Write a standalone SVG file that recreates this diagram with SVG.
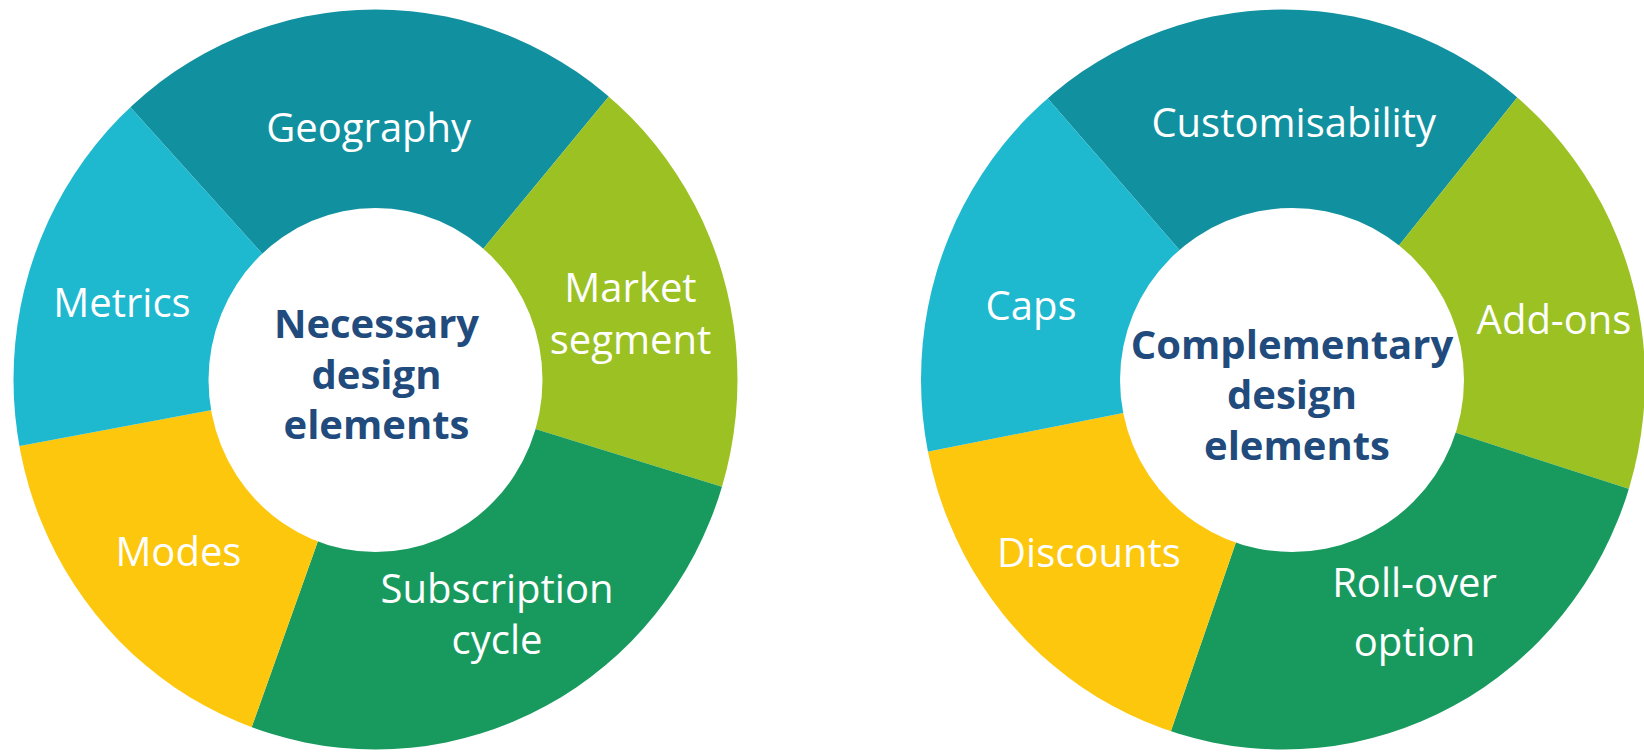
<svg xmlns="http://www.w3.org/2000/svg" width="1644" height="752" viewBox="0 0 1644 752">
<defs>
<style>
.lbl{font-family:"Open Sans","Noto Sans","Liberation Sans",sans-serif;font-size:40px;fill:#ffffff;text-anchor:middle}
.ctr{font-family:"Open Sans","Noto Sans","Liberation Sans",sans-serif;font-size:40px;font-weight:bold;fill:#224B7D;text-anchor:middle}
.teal{fill:#11909F}
.cyan{fill:#1EB8CF}
.lime{fill:#9BC222}
.green{fill:#189A5F}
.yellow{fill:#FCC70C}
</style>
<clipPath id="clipL"><ellipse cx="375.5" cy="379.5" rx="362" ry="370"/></clipPath>
<clipPath id="clipR"><ellipse cx="1283" cy="379.5" rx="362" ry="370"/></clipPath>
</defs>
<rect width="1644" height="752" fill="#ffffff"/>

<g id="donut-necessary">
<g clip-path="url(#clipL)">
<path id="seg-geography" class="teal" d="M375.5,379.5 L-159.8,-215 A800,800 0 0 1 884.4,-237.8 Z"/>
<path id="seg-market" class="lime" d="M375.5,379.5 L884.4,-237.8 A800,800 0 0 1 1139.7,616.1 Z"/>
<path id="seg-subscription" class="green" d="M375.5,379.5 L1139.7,616.1 A800,800 0 0 1 107.1,1133.1 Z"/>
<path id="seg-modes" class="yellow" d="M375.5,379.5 L107.1,1133.1 A800,800 0 0 1 -410.9,526.7 Z"/>
<path id="seg-metrics" class="cyan" d="M375.5,379.5 L-410.9,526.7 A800,800 0 0 1 -159.8,-215 Z"/>
</g>
<ellipse id="hub-necessary" cx="375.5" cy="380" rx="167" ry="172" fill="#ffffff"/>
<g id="label-geography"><text class="lbl" x="368.7" y="141.5">Geography</text></g>
<g id="label-metrics"><text class="lbl" x="122" y="316.5">Metrics</text></g>
<g id="label-market"><text class="lbl" x="630.5" y="302">Market</text><text class="lbl" x="630.5" y="353.5">segment</text></g>
<g id="label-modes"><text class="lbl" x="178.4" y="566">Modes</text></g>
<g id="label-subscription"><text class="lbl" x="497" y="603.4">Subscription</text><text class="lbl" x="497" y="653.7">cycle</text></g>
<g id="center-necessary"><text class="ctr" x="376.5" y="338">Necessary</text><text class="ctr" x="376.5" y="388.5">design</text><text class="ctr" x="376.5" y="438.8">elements</text></g>
</g>

<g id="donut-complementary">
<g clip-path="url(#clipR)">
<path id="seg-customisability" class="teal" d="M1292,379.5 L767.2,-224.3 A800,800 0 0 1 1791.1,-245.7 Z"/>
<path id="seg-addons" class="lime" d="M1292,379.5 L1791.1,-245.7 A800,800 0 0 1 2052.8,626.7 Z"/>
<path id="seg-rollover" class="green" d="M1292,379.5 L2052.8,626.7 A800,800 0 0 1 1031.5,1135.9 Z"/>
<path id="seg-discounts" class="yellow" d="M1292,379.5 L1031.5,1135.9 A800,800 0 0 1 507.2,534.9 Z"/>
<path id="seg-caps" class="cyan" d="M1292,379.5 L507.2,534.9 A800,800 0 0 1 767.2,-224.3 Z"/>
</g>
<ellipse id="hub-complementary" cx="1292" cy="380" rx="172" ry="172" fill="#ffffff"/>
<g id="label-customisability"><text class="lbl" x="1293.7" y="136.7">Customisability</text></g>
<g id="label-caps"><text class="lbl" x="1031" y="320.4">Caps</text></g>
<g id="label-addons"><text class="lbl" x="1554" y="334.3">Add-ons</text></g>
<g id="label-discounts"><text class="lbl" x="1089" y="567.4">Discounts</text></g>
<g id="label-rollover"><text class="lbl" x="1414.5" y="597">Roll-over</text><text class="lbl" x="1414.5" y="655.6">option</text></g>
<g id="center-complementary"><text class="ctr" x="1292" y="358.8">Complementary</text><text class="ctr" x="1292" y="409">design</text><text class="ctr" x="1297" y="459.5">elements</text></g>
</g>
</svg>
